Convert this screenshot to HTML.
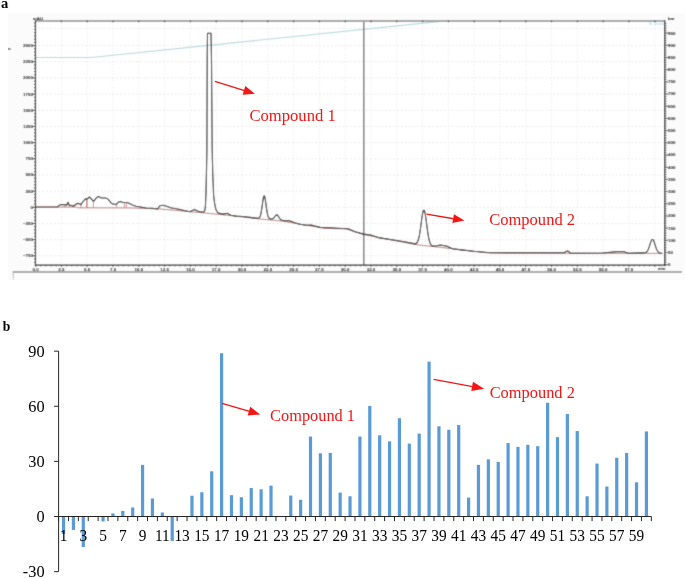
<!DOCTYPE html>
<html><head><meta charset="utf-8"><title>Chromatogram and bar chart</title>
<style>html,body{margin:0;padding:0;background:#fff;width:685px;height:578px;overflow:hidden}svg{display:block}</style>
</head><body>
<svg width="685" height="578" viewBox="0 0 685 578"><defs><filter id="bA" x="0" y="0" width="1" height="1"><feConvolveMatrix order="3" kernelMatrix="0.03 0.1 0.03 0.1 0.48 0.1 0.03 0.1 0.03" edgeMode="duplicate"/></filter></defs>
<g filter="url(#bA)">
<rect x="8.8" y="13.7" width="675.7" height="265.5" fill="#fbfbfb"/>
<rect x="35.5" y="21.0" width="629.2" height="244.10000000000002" fill="#ffffff"/>
<path d="M38.30 255.81H663.70 M38.30 239.64H663.70 M38.30 223.47H663.70 M38.30 207.30H663.70 M38.30 191.13H663.70 M38.30 174.96H663.70 M38.30 158.79H663.70 M38.30 142.62H663.70 M38.30 126.45H663.70 M38.30 110.28H663.70 M38.30 94.11H663.70 M38.30 77.94H663.70 M38.30 61.77H663.70 M38.30 45.60H663.70 M38.30 28.40H663.70" stroke="#e2e2e2" stroke-width="0.8" stroke-dasharray="1.8 2.1" fill="none"/>
<path d="M61.40 22.00V264.10 M87.20 22.00V264.10 M113.00 22.00V264.10 M138.80 22.00V264.10 M164.60 22.00V264.10 M190.40 22.00V264.10 M216.20 22.00V264.10 M242.00 22.00V264.10 M267.80 22.00V264.10 M293.60 22.00V264.10 M319.40 22.00V264.10 M345.20 22.00V264.10 M371.00 22.00V264.10 M396.80 22.00V264.10 M422.60 22.00V264.10 M448.40 22.00V264.10 M474.20 22.00V264.10 M500.00 22.00V264.10 M525.80 22.00V264.10 M551.60 22.00V264.10 M577.40 22.00V264.10 M603.20 22.00V264.10 M629.00 22.00V264.10 M654.80 22.00V264.10" stroke="#e2e2e2" stroke-width="0.8" stroke-dasharray="1.2 2.04" fill="none"/>
<polyline points="35.5,57.5 91.5,57.5 448,20.6 664.7,20.6" stroke="#b5d8db" stroke-width="1.1" fill="none"/>
<rect x="9.1" y="48" width="1.6" height="2" fill="#808080"/>
<line x1="363.8" y1="21.0" x2="363.8" y2="265.1" stroke="#666" stroke-width="1.3"/>
<polyline points="35.5,207.1 57,207.1 77,207.1 77.3,207.8 130,207.9 160,209.0 205,213.0 230,215.5 258,218.8 282,221.0 325,228.4 346,228.9 364,234.7 416,244.7 440,247.3 490,253.2 663,253.4" stroke="#b98080" stroke-width="1" fill="none"/>
<line x1="65.1" y1="207.6" x2="65.1" y2="205.0" stroke="#c08080" stroke-width="0.9"/>
<line x1="80.9" y1="207.6" x2="80.9" y2="204.6" stroke="#c08080" stroke-width="0.9"/>
<line x1="86.5" y1="207.6" x2="86.5" y2="199.0" stroke="#c08080" stroke-width="0.9"/>
<line x1="87.2" y1="207.6" x2="87.2" y2="199.2" stroke="#c08080" stroke-width="0.9"/>
<line x1="93.4" y1="207.6" x2="93.4" y2="201.2" stroke="#c08080" stroke-width="0.9"/>
<line x1="116.4" y1="207.6" x2="116.4" y2="204.3" stroke="#c08080" stroke-width="0.9"/>
<line x1="124.4" y1="207.6" x2="124.4" y2="202.5" stroke="#c08080" stroke-width="0.9"/>
<line x1="126.4" y1="207.6" x2="126.4" y2="202.5" stroke="#c08080" stroke-width="0.9"/>
<polyline points="35.50,207.10 57.20,207.10 58.50,205.80 60.40,204.60 65.70,204.60 66.30,205.20 67.00,204.50 68.00,202.20 69.50,205.70 71.00,205.30 73.30,206.30 75.50,204.50 77.40,203.40 79.70,203.70 80.90,204.60 83.20,201.30 85.60,198.70 86.70,199.30 89.40,197.00 93.60,201.40 96.00,198.30 98.40,196.40 101.60,198.00 105.50,198.00 107.40,198.70 109.30,200.60 111.30,203.20 113.80,204.30 116.40,204.30 118.30,202.20 120.30,201.40 122.80,202.50 127.30,202.50 129.30,203.50 132.50,205.10 136.00,206.20 142.10,207.20 146.20,208.00 152.30,208.20 157.50,209.00 158.60,207.50 160.00,205.70 163.10,205.20 166.60,206.20 170.70,207.70 178.90,209.20 185.00,210.80 190.10,211.80 194.20,209.40 198.30,211.30 202.40,212.30 204.30,211.60 205.00,209.50 205.50,205.00 205.90,195.00 206.40,175.00 206.90,150.00 207.20,60.00 207.50,33.20 211.00,33.20 211.50,60.00 212.20,150.00 212.80,175.00 213.60,195.00 214.40,202.00 215.10,206.00 215.90,209.50 217.80,212.80 220.50,213.60 223.00,214.10 225.50,213.60 227.30,213.30 229.00,214.20 231.00,215.20 236.10,216.10 242.70,216.50 250.00,217.40 255.80,218.10 257.80,218.30 258.00,218.12 258.41,218.05 258.82,217.92 259.24,217.65 259.65,217.19 260.06,216.46 260.48,215.35 260.89,213.79 261.30,211.73 261.71,209.19 262.12,206.29 262.54,203.25 262.95,200.35 263.36,197.95 263.77,196.34 264.19,195.78 264.60,196.33 265.01,197.92 265.43,200.34 265.84,203.26 266.25,206.36 266.66,209.32 267.07,211.93 267.49,214.07 267.90,215.71 268.31,216.90 268.72,217.70 269.14,218.23 269.55,218.55 269.96,218.75 270.38,218.86 270.79,218.93 271.20,218.98 271.67,218.93 272.13,218.88 272.60,218.75 273.07,218.52 273.53,218.17 274.00,217.70 274.47,217.10 274.93,216.44 275.40,215.79 275.87,215.24 276.33,214.89 276.80,214.80 277.27,215.00 277.73,215.47 278.20,216.14 278.67,216.91 279.13,217.69 279.60,218.40 280.07,218.99 280.53,219.46 281.00,219.80 281.47,220.04 281.93,220.21 282.40,220.34 284.00,221.00 286.50,220.60 288.50,220.50 291.00,221.30 293.80,222.50 299.90,224.30 306.00,225.20 311.30,225.10 314.80,226.00 320.10,227.40 330.60,227.80 338.00,228.20 348.30,228.70 355.00,231.80 363.80,234.10 370.80,235.00 379.60,237.90 395.30,240.20 405.80,242.00 415.00,243.90 415.50,243.67 416.23,243.38 416.96,242.74 417.69,241.54 418.42,239.56 419.15,236.58 419.88,232.51 420.60,227.51 421.33,222.00 422.06,216.71 422.79,212.50 423.52,210.19 424.25,210.23 424.98,212.65 425.71,216.99 426.44,222.44 427.17,228.15 427.90,233.38 428.62,237.68 429.35,240.90 430.08,243.11 430.81,244.52 431.54,245.37 432.27,245.86 433.00,246.15 437.00,245.70 440.30,245.10 446.40,246.00 452.50,248.70 461.30,249.90 473.50,251.30 487.60,252.50 505.00,252.70 564.00,252.70 566.00,251.50 567.50,250.90 569.00,251.50 570.10,253.40 602.60,253.00 610.00,252.30 616.60,251.60 623.60,251.60 628.80,253.40 643.00,252.90 643.50,252.97 644.27,252.92 645.05,252.80 645.83,252.53 646.60,252.00 647.38,251.08 648.15,249.67 648.92,247.73 649.70,245.37 650.48,242.92 651.25,240.83 652.02,239.57 652.80,239.44 653.58,240.49 654.35,242.46 655.12,244.90 655.90,247.33 656.68,249.41 657.45,250.97 658.23,252.02 659.00,252.64 659.77,252.99 660.55,253.16 661.33,253.24 662.10,253.28" stroke="#111" stroke-width="1.1" fill="none" stroke-linejoin="round"/>
<line x1="35.5" y1="207.1" x2="57.6" y2="207.1" stroke="#c08a8a" stroke-width="1.1"/>
<line x1="35.5" y1="21.0" x2="664.7" y2="21.0" stroke="#a6a6a6" stroke-width="2"/>
<line x1="35.5" y1="20.0" x2="35.5" y2="265.90000000000003" stroke="#1a1a1a" stroke-width="1.2"/>
<line x1="34.8" y1="265.1" x2="664.7" y2="265.1" stroke="#222" stroke-width="1.4"/>
<line x1="664.7" y1="20.0" x2="664.7" y2="265.90000000000003" stroke="#1a1a1a" stroke-width="1.2"/>
<path d="M34.00 262.28H35.5 M34.00 259.04H35.5 M32.50 255.81H35.5 M34.00 252.58H35.5 M34.00 249.34H35.5 M34.00 246.11H35.5 M34.00 242.87H35.5 M32.50 239.64H35.5 M34.00 236.41H35.5 M34.00 233.17H35.5 M34.00 229.94H35.5 M34.00 226.70H35.5 M32.50 223.47H35.5 M34.00 220.24H35.5 M34.00 217.00H35.5 M34.00 213.77H35.5 M34.00 210.53H35.5 M32.50 207.30H35.5 M34.00 204.07H35.5 M34.00 200.83H35.5 M34.00 197.60H35.5 M34.00 194.36H35.5 M32.50 191.13H35.5 M34.00 187.90H35.5 M34.00 184.66H35.5 M34.00 181.43H35.5 M34.00 178.19H35.5 M32.50 174.96H35.5 M34.00 171.73H35.5 M34.00 168.49H35.5 M34.00 165.26H35.5 M34.00 162.02H35.5 M32.50 158.79H35.5 M34.00 155.56H35.5 M34.00 152.32H35.5 M34.00 149.09H35.5 M34.00 145.85H35.5 M32.50 142.62H35.5 M34.00 139.39H35.5 M34.00 136.15H35.5 M34.00 132.92H35.5 M34.00 129.68H35.5 M32.50 126.45H35.5 M34.00 123.22H35.5 M34.00 119.98H35.5 M34.00 116.75H35.5 M34.00 113.51H35.5 M32.50 110.28H35.5 M34.00 107.05H35.5 M34.00 103.81H35.5 M34.00 100.58H35.5 M34.00 97.34H35.5 M32.50 94.11H35.5 M34.00 90.88H35.5 M34.00 87.64H35.5 M34.00 84.41H35.5 M34.00 81.17H35.5 M32.50 77.94H35.5 M34.00 74.71H35.5 M34.00 71.47H35.5 M34.00 68.24H35.5 M34.00 65.00H35.5 M32.50 61.77H35.5 M34.00 58.54H35.5 M34.00 55.30H35.5 M34.00 52.07H35.5 M34.00 48.83H35.5 M32.50 45.60H35.5 M34.00 42.37H35.5 M34.00 39.13H35.5 M34.00 35.90H35.5 M34.00 32.66H35.5 M34.00 29.43H35.5 M34.00 26.20H35.5 M34.00 22.96H35.5 M35.60 265.1V266.90000000000003 M40.76 265.1V266.3 M45.92 265.1V266.3 M51.08 265.1V266.3 M56.24 265.1V266.3 M61.40 265.1V266.90000000000003 M66.56 265.1V266.3 M71.72 265.1V266.3 M76.88 265.1V266.3 M82.04 265.1V266.3 M87.20 265.1V266.90000000000003 M92.36 265.1V266.3 M97.52 265.1V266.3 M102.68 265.1V266.3 M107.84 265.1V266.3 M113.00 265.1V266.90000000000003 M118.16 265.1V266.3 M123.32 265.1V266.3 M128.48 265.1V266.3 M133.64 265.1V266.3 M138.80 265.1V266.90000000000003 M143.96 265.1V266.3 M149.12 265.1V266.3 M154.28 265.1V266.3 M159.44 265.1V266.3 M164.60 265.1V266.90000000000003 M169.76 265.1V266.3 M174.92 265.1V266.3 M180.08 265.1V266.3 M185.24 265.1V266.3 M190.40 265.1V266.90000000000003 M195.56 265.1V266.3 M200.72 265.1V266.3 M205.88 265.1V266.3 M211.04 265.1V266.3 M216.20 265.1V266.90000000000003 M221.36 265.1V266.3 M226.52 265.1V266.3 M231.68 265.1V266.3 M236.84 265.1V266.3 M242.00 265.1V266.90000000000003 M247.16 265.1V266.3 M252.32 265.1V266.3 M257.48 265.1V266.3 M262.64 265.1V266.3 M267.80 265.1V266.90000000000003 M272.96 265.1V266.3 M278.12 265.1V266.3 M283.28 265.1V266.3 M288.44 265.1V266.3 M293.60 265.1V266.90000000000003 M298.76 265.1V266.3 M303.92 265.1V266.3 M309.08 265.1V266.3 M314.24 265.1V266.3 M319.40 265.1V266.90000000000003 M324.56 265.1V266.3 M329.72 265.1V266.3 M334.88 265.1V266.3 M340.04 265.1V266.3 M345.20 265.1V266.90000000000003 M350.36 265.1V266.3 M355.52 265.1V266.3 M360.68 265.1V266.3 M365.84 265.1V266.3 M371.00 265.1V266.90000000000003 M376.16 265.1V266.3 M381.32 265.1V266.3 M386.48 265.1V266.3 M391.64 265.1V266.3 M396.80 265.1V266.90000000000003 M401.96 265.1V266.3 M407.12 265.1V266.3 M412.28 265.1V266.3 M417.44 265.1V266.3 M422.60 265.1V266.90000000000003 M427.76 265.1V266.3 M432.92 265.1V266.3 M438.08 265.1V266.3 M443.24 265.1V266.3 M448.40 265.1V266.90000000000003 M453.56 265.1V266.3 M458.72 265.1V266.3 M463.88 265.1V266.3 M469.04 265.1V266.3 M474.20 265.1V266.90000000000003 M479.36 265.1V266.3 M484.52 265.1V266.3 M489.68 265.1V266.3 M494.84 265.1V266.3 M500.00 265.1V266.90000000000003 M505.16 265.1V266.3 M510.32 265.1V266.3 M515.48 265.1V266.3 M520.64 265.1V266.3 M525.80 265.1V266.90000000000003 M530.96 265.1V266.3 M536.12 265.1V266.3 M541.28 265.1V266.3 M546.44 265.1V266.3 M551.60 265.1V266.90000000000003 M556.76 265.1V266.3 M561.92 265.1V266.3 M567.08 265.1V266.3 M572.24 265.1V266.3 M577.40 265.1V266.90000000000003 M582.56 265.1V266.3 M587.72 265.1V266.3 M592.88 265.1V266.3 M598.04 265.1V266.3 M603.20 265.1V266.90000000000003 M608.36 265.1V266.3 M613.52 265.1V266.3 M618.68 265.1V266.3 M623.84 265.1V266.3 M629.00 265.1V266.90000000000003 M634.16 265.1V266.3 M639.32 265.1V266.3 M644.48 265.1V266.3 M649.64 265.1V266.3 M654.80 265.1V266.90000000000003 M659.96 265.1V266.3 M665.12 265.1V266.3 M61.40 20.4V22.2 M87.20 20.4V22.2 M113.00 20.4V22.2 M138.80 20.4V22.2 M164.60 20.4V22.2 M190.40 20.4V22.2 M216.20 20.4V22.2 M242.00 20.4V22.2 M267.80 20.4V22.2 M293.60 20.4V22.2 M319.40 20.4V22.2 M345.20 20.4V22.2 M371.00 20.4V22.2 M396.80 20.4V22.2 M422.60 20.4V22.2 M448.40 20.4V22.2 M474.20 20.4V22.2 M500.00 20.4V22.2 M525.80 20.4V22.2 M551.60 20.4V22.2 M577.40 20.4V22.2 M603.20 20.4V22.2 M629.00 20.4V22.2 M654.80 20.4V22.2 M664.7 264.70H667.9000000000001 M664.7 262.26H666.3000000000001 M664.7 259.82H666.3000000000001 M664.7 257.39H666.3000000000001 M664.7 254.95H666.3000000000001 M664.7 252.51H667.9000000000001 M664.7 250.07H666.3000000000001 M664.7 247.63H666.3000000000001 M664.7 245.20H666.3000000000001 M664.7 242.76H666.3000000000001 M664.7 240.32H667.9000000000001 M664.7 237.88H666.3000000000001 M664.7 235.44H666.3000000000001 M664.7 233.01H666.3000000000001 M664.7 230.57H666.3000000000001 M664.7 228.13H667.9000000000001 M664.7 225.69H666.3000000000001 M664.7 223.25H666.3000000000001 M664.7 220.82H666.3000000000001 M664.7 218.38H666.3000000000001 M664.7 215.94H667.9000000000001 M664.7 213.50H666.3000000000001 M664.7 211.06H666.3000000000001 M664.7 208.63H666.3000000000001 M664.7 206.19H666.3000000000001 M664.7 203.75H667.9000000000001 M664.7 201.31H666.3000000000001 M664.7 198.87H666.3000000000001 M664.7 196.44H666.3000000000001 M664.7 194.00H666.3000000000001 M664.7 191.56H667.9000000000001 M664.7 189.12H666.3000000000001 M664.7 186.68H666.3000000000001 M664.7 184.25H666.3000000000001 M664.7 181.81H666.3000000000001 M664.7 179.37H667.9000000000001 M664.7 176.93H666.3000000000001 M664.7 174.49H666.3000000000001 M664.7 172.06H666.3000000000001 M664.7 169.62H666.3000000000001 M664.7 167.18H667.9000000000001 M664.7 164.74H666.3000000000001 M664.7 162.30H666.3000000000001 M664.7 159.87H666.3000000000001 M664.7 157.43H666.3000000000001 M664.7 154.99H667.9000000000001 M664.7 152.55H666.3000000000001 M664.7 150.11H666.3000000000001 M664.7 147.68H666.3000000000001 M664.7 145.24H666.3000000000001 M664.7 142.80H667.9000000000001 M664.7 140.36H666.3000000000001 M664.7 137.92H666.3000000000001 M664.7 135.49H666.3000000000001 M664.7 133.05H666.3000000000001 M664.7 130.61H667.9000000000001 M664.7 128.17H666.3000000000001 M664.7 125.73H666.3000000000001 M664.7 123.30H666.3000000000001 M664.7 120.86H666.3000000000001 M664.7 118.42H667.9000000000001 M664.7 115.98H666.3000000000001 M664.7 113.54H666.3000000000001 M664.7 111.11H666.3000000000001 M664.7 108.67H666.3000000000001 M664.7 106.23H667.9000000000001 M664.7 103.79H666.3000000000001 M664.7 101.35H666.3000000000001 M664.7 98.92H666.3000000000001 M664.7 96.48H666.3000000000001 M664.7 94.04H667.9000000000001 M664.7 91.60H666.3000000000001 M664.7 89.16H666.3000000000001 M664.7 86.73H666.3000000000001 M664.7 84.29H666.3000000000001 M664.7 81.85H667.9000000000001 M664.7 79.41H666.3000000000001 M664.7 76.97H666.3000000000001 M664.7 74.54H666.3000000000001 M664.7 72.10H666.3000000000001 M664.7 69.66H667.9000000000001 M664.7 67.22H666.3000000000001 M664.7 64.78H666.3000000000001 M664.7 62.35H666.3000000000001 M664.7 59.91H666.3000000000001 M664.7 57.47H667.9000000000001 M664.7 55.03H666.3000000000001 M664.7 52.59H666.3000000000001 M664.7 50.16H666.3000000000001 M664.7 47.72H666.3000000000001 M664.7 45.28H667.9000000000001 M664.7 42.84H666.3000000000001 M664.7 40.40H666.3000000000001 M664.7 37.97H666.3000000000001 M664.7 35.53H666.3000000000001 M664.7 33.09H667.9000000000001 M664.7 30.65H666.3000000000001 M664.7 28.21H666.3000000000001 M664.7 25.78H666.3000000000001 M664.7 23.34H666.3000000000001" stroke="#222" stroke-width="0.9" fill="none"/>
<g font-family="Liberation Sans, Arial, sans-serif" font-size="4.0" font-weight="bold" fill="#000"><text transform="translate(33.00 257.26) scale(1.12 1)" text-anchor="end">−750</text><text transform="translate(33.00 241.09) scale(1.12 1)" text-anchor="end">−500</text><text transform="translate(33.00 224.92) scale(1.12 1)" text-anchor="end">−250</text><text transform="translate(33.00 208.75) scale(1.12 1)" text-anchor="end">0</text><text transform="translate(33.00 192.58) scale(1.12 1)" text-anchor="end">250</text><text transform="translate(33.00 176.41) scale(1.12 1)" text-anchor="end">500</text><text transform="translate(33.00 160.24) scale(1.12 1)" text-anchor="end">750</text><text transform="translate(33.00 144.07) scale(1.12 1)" text-anchor="end">1000</text><text transform="translate(33.00 127.90) scale(1.12 1)" text-anchor="end">1250</text><text transform="translate(33.00 111.73) scale(1.12 1)" text-anchor="end">1500</text><text transform="translate(33.00 95.56) scale(1.12 1)" text-anchor="end">1750</text><text transform="translate(33.00 79.39) scale(1.12 1)" text-anchor="end">2000</text><text transform="translate(33.00 63.22) scale(1.12 1)" text-anchor="end">2250</text><text transform="translate(33.00 47.05) scale(1.12 1)" text-anchor="end">2500</text><text transform="translate(35.60 270.60) scale(1.12 1)" text-anchor="middle">0.0</text><text transform="translate(61.40 270.60) scale(1.12 1)" text-anchor="middle">2.5</text><text transform="translate(87.20 270.60) scale(1.12 1)" text-anchor="middle">5.0</text><text transform="translate(113.00 270.60) scale(1.12 1)" text-anchor="middle">7.5</text><text transform="translate(138.80 270.60) scale(1.12 1)" text-anchor="middle">10.0</text><text transform="translate(164.60 270.60) scale(1.12 1)" text-anchor="middle">12.5</text><text transform="translate(190.40 270.60) scale(1.12 1)" text-anchor="middle">15.0</text><text transform="translate(216.20 270.60) scale(1.12 1)" text-anchor="middle">17.5</text><text transform="translate(242.00 270.60) scale(1.12 1)" text-anchor="middle">20.0</text><text transform="translate(267.80 270.60) scale(1.12 1)" text-anchor="middle">22.5</text><text transform="translate(293.60 270.60) scale(1.12 1)" text-anchor="middle">25.0</text><text transform="translate(319.40 270.60) scale(1.12 1)" text-anchor="middle">27.5</text><text transform="translate(345.20 270.60) scale(1.12 1)" text-anchor="middle">30.0</text><text transform="translate(371.00 270.60) scale(1.12 1)" text-anchor="middle">32.5</text><text transform="translate(396.80 270.60) scale(1.12 1)" text-anchor="middle">35.0</text><text transform="translate(422.60 270.60) scale(1.12 1)" text-anchor="middle">37.5</text><text transform="translate(448.40 270.60) scale(1.12 1)" text-anchor="middle">40.0</text><text transform="translate(474.20 270.60) scale(1.12 1)" text-anchor="middle">42.5</text><text transform="translate(500.00 270.60) scale(1.12 1)" text-anchor="middle">45.0</text><text transform="translate(525.80 270.60) scale(1.12 1)" text-anchor="middle">47.5</text><text transform="translate(551.60 270.60) scale(1.12 1)" text-anchor="middle">50.0</text><text transform="translate(577.40 270.60) scale(1.12 1)" text-anchor="middle">52.5</text><text transform="translate(603.20 270.60) scale(1.12 1)" text-anchor="middle">55.0</text><text transform="translate(629.00 270.60) scale(1.12 1)" text-anchor="middle">57.5</text><text transform="translate(661.60 270.40) scale(1.12 1)" text-anchor="middle">min</text><text transform="translate(668.00 266.15) scale(1.12 1)" text-anchor="start">0</text><text transform="translate(668.00 253.96) scale(1.12 1)" text-anchor="start">50</text><text transform="translate(668.00 241.77) scale(1.12 1)" text-anchor="start">100</text><text transform="translate(668.00 229.58) scale(1.12 1)" text-anchor="start">150</text><text transform="translate(668.00 217.39) scale(1.12 1)" text-anchor="start">200</text><text transform="translate(668.00 205.20) scale(1.12 1)" text-anchor="start">250</text><text transform="translate(668.00 193.01) scale(1.12 1)" text-anchor="start">300</text><text transform="translate(668.00 180.82) scale(1.12 1)" text-anchor="start">350</text><text transform="translate(668.00 168.63) scale(1.12 1)" text-anchor="start">400</text><text transform="translate(668.00 156.44) scale(1.12 1)" text-anchor="start">450</text><text transform="translate(668.00 144.25) scale(1.12 1)" text-anchor="start">500</text><text transform="translate(668.00 132.06) scale(1.12 1)" text-anchor="start">550</text><text transform="translate(668.00 119.87) scale(1.12 1)" text-anchor="start">600</text><text transform="translate(668.00 107.68) scale(1.12 1)" text-anchor="start">650</text><text transform="translate(668.00 95.49) scale(1.12 1)" text-anchor="start">700</text><text transform="translate(668.00 83.30) scale(1.12 1)" text-anchor="start">750</text><text transform="translate(668.00 71.11) scale(1.12 1)" text-anchor="start">800</text><text transform="translate(668.00 58.92) scale(1.12 1)" text-anchor="start">850</text><text transform="translate(668.00 46.73) scale(1.12 1)" text-anchor="start">900</text><text transform="translate(668.00 34.54) scale(1.12 1)" text-anchor="start">950</text><text transform="translate(38.00 19.60) scale(1.12 1)" text-anchor="middle">mAU</text><text transform="translate(671.30 20.30) scale(1.12 1)" text-anchor="middle">bar</text></g>
<text transform="translate(663.6 24.5) scale(0.98 1)" text-anchor="end" font-family="Liberation Sans, Arial, sans-serif" font-size="3.6" font-weight="bold" fill="#b8dcdc">B_Druck</text>
<rect x="14" y="273" width="668" height="5.6" fill="#fdfdfd"/>
<rect x="12.6" y="271.1" width="669.2" height="1.8" fill="#a0a0a0"/>
<line x1="13.3" y1="273" x2="13.3" y2="278.6" stroke="#aaa" stroke-width="0.8"/>
</g>
<line x1="214.9" y1="81.4" x2="244.46" y2="90.55" stroke="#f21616" stroke-width="1.3"/>
<polygon points="254.87,93.78 242.65,94.70 245.31,86.11" fill="#f21616"/>
<line x1="426.4" y1="214.1" x2="453.65" y2="218.76" stroke="#f21616" stroke-width="1.3"/>
<polygon points="464.39,220.60 452.40,223.11 453.91,214.24" fill="#f21616"/>
<text x="249.5" y="120.7" font-family="Liberation Serif, Times New Roman, serif" font-size="16.6" fill="#f21616">Compound 1</text>
<text x="489.2" y="225.2" font-family="Liberation Serif, Times New Roman, serif" font-size="16.55" fill="#f21616">Compound 2</text>
<text x="0.9" y="8.15" font-family="Liberation Serif, Times New Roman, serif" font-weight="bold" font-size="14.6" fill="#000">a</text>
<g fill="#5b9bd5"><rect x="61.94" y="516.50" width="3.2" height="17.45"/><rect x="71.82" y="516.50" width="3.2" height="13.41"/><rect x="81.70" y="516.50" width="3.2" height="30.49"/><rect x="101.46" y="516.50" width="3.2" height="4.96"/><rect x="111.33" y="513.38" width="3.2" height="3.12"/><rect x="121.21" y="510.99" width="3.2" height="5.51"/><rect x="131.09" y="507.50" width="3.2" height="9.00"/><rect x="140.97" y="464.88" width="3.2" height="51.62"/><rect x="150.85" y="498.50" width="3.2" height="18.00"/><rect x="160.73" y="512.46" width="3.2" height="4.04"/><rect x="170.61" y="516.50" width="3.2" height="24.43"/><rect x="190.37" y="495.74" width="3.2" height="20.76"/><rect x="200.25" y="492.25" width="3.2" height="24.25"/><rect x="210.12" y="471.31" width="3.2" height="45.19"/><rect x="220.00" y="353.19" width="3.2" height="163.31"/><rect x="229.88" y="495.19" width="3.2" height="21.31"/><rect x="239.76" y="497.21" width="3.2" height="19.29"/><rect x="249.64" y="488.03" width="3.2" height="28.47"/><rect x="259.52" y="489.31" width="3.2" height="27.19"/><rect x="269.40" y="485.64" width="3.2" height="30.86"/><rect x="289.16" y="495.56" width="3.2" height="20.94"/><rect x="299.04" y="499.78" width="3.2" height="16.72"/><rect x="308.91" y="436.59" width="3.2" height="79.91"/><rect x="318.79" y="453.31" width="3.2" height="63.19"/><rect x="328.67" y="452.94" width="3.2" height="63.56"/><rect x="338.55" y="492.62" width="3.2" height="23.88"/><rect x="348.43" y="496.29" width="3.2" height="20.21"/><rect x="358.31" y="436.59" width="3.2" height="79.91"/><rect x="368.19" y="405.91" width="3.2" height="110.59"/><rect x="378.07" y="435.30" width="3.2" height="81.20"/><rect x="387.95" y="441.37" width="3.2" height="75.13"/><rect x="397.83" y="418.22" width="3.2" height="98.28"/><rect x="407.70" y="443.57" width="3.2" height="72.93"/><rect x="417.58" y="433.65" width="3.2" height="82.85"/><rect x="427.46" y="361.64" width="3.2" height="154.86"/><rect x="437.34" y="426.30" width="3.2" height="90.20"/><rect x="447.22" y="429.79" width="3.2" height="86.71"/><rect x="457.10" y="425.02" width="3.2" height="91.48"/><rect x="466.98" y="497.58" width="3.2" height="18.92"/><rect x="476.86" y="464.88" width="3.2" height="51.62"/><rect x="486.74" y="459.37" width="3.2" height="57.13"/><rect x="496.62" y="461.94" width="3.2" height="54.56"/><rect x="506.49" y="443.02" width="3.2" height="73.48"/><rect x="516.37" y="446.88" width="3.2" height="69.62"/><rect x="526.25" y="444.86" width="3.2" height="71.64"/><rect x="536.13" y="446.14" width="3.2" height="70.36"/><rect x="546.01" y="402.79" width="3.2" height="113.71"/><rect x="555.89" y="437.14" width="3.2" height="79.36"/><rect x="565.77" y="414.00" width="3.2" height="102.50"/><rect x="575.65" y="431.08" width="3.2" height="85.42"/><rect x="585.53" y="496.29" width="3.2" height="20.21"/><rect x="595.41" y="463.59" width="3.2" height="52.91"/><rect x="605.28" y="486.56" width="3.2" height="29.94"/><rect x="615.16" y="457.72" width="3.2" height="58.78"/><rect x="625.04" y="452.94" width="3.2" height="63.56"/><rect x="634.92" y="482.33" width="3.2" height="34.17"/><rect x="644.80" y="431.45" width="3.2" height="85.05"/></g>
<g font-family="Liberation Serif, Times New Roman, serif" font-size="17.2" fill="#000"><text transform="translate(44.6 356.92) scale(0.95 1)" text-anchor="end">90</text><text transform="translate(44.6 412.03) scale(0.95 1)" text-anchor="end">60</text><text transform="translate(44.6 467.14) scale(0.95 1)" text-anchor="end">30</text><text transform="translate(44.6 522.25) scale(0.95 1)" text-anchor="end">0</text><text transform="translate(44.6 577.36) scale(0.95 1)" text-anchor="end">-30</text><text transform="translate(63.54 540.8) scale(0.874 1)" text-anchor="middle" font-size="17.6">1</text><text transform="translate(83.30 540.8) scale(0.874 1)" text-anchor="middle" font-size="17.6">3</text><text transform="translate(103.06 540.8) scale(0.874 1)" text-anchor="middle" font-size="17.6">5</text><text transform="translate(122.81 540.8) scale(0.874 1)" text-anchor="middle" font-size="17.6">7</text><text transform="translate(142.57 540.8) scale(0.874 1)" text-anchor="middle" font-size="17.6">9</text><text transform="translate(162.33 540.8) scale(0.874 1)" text-anchor="middle" font-size="17.6">11</text><text transform="translate(182.09 540.8) scale(0.874 1)" text-anchor="middle" font-size="17.6">13</text><text transform="translate(201.85 540.8) scale(0.874 1)" text-anchor="middle" font-size="17.6">15</text><text transform="translate(221.60 540.8) scale(0.874 1)" text-anchor="middle" font-size="17.6">17</text><text transform="translate(241.36 540.8) scale(0.874 1)" text-anchor="middle" font-size="17.6">19</text><text transform="translate(261.12 540.8) scale(0.874 1)" text-anchor="middle" font-size="17.6">21</text><text transform="translate(280.88 540.8) scale(0.874 1)" text-anchor="middle" font-size="17.6">23</text><text transform="translate(300.64 540.8) scale(0.874 1)" text-anchor="middle" font-size="17.6">25</text><text transform="translate(320.39 540.8) scale(0.874 1)" text-anchor="middle" font-size="17.6">27</text><text transform="translate(340.15 540.8) scale(0.874 1)" text-anchor="middle" font-size="17.6">29</text><text transform="translate(359.91 540.8) scale(0.874 1)" text-anchor="middle" font-size="17.6">31</text><text transform="translate(379.67 540.8) scale(0.874 1)" text-anchor="middle" font-size="17.6">33</text><text transform="translate(399.43 540.8) scale(0.874 1)" text-anchor="middle" font-size="17.6">35</text><text transform="translate(419.18 540.8) scale(0.874 1)" text-anchor="middle" font-size="17.6">37</text><text transform="translate(438.94 540.8) scale(0.874 1)" text-anchor="middle" font-size="17.6">39</text><text transform="translate(458.70 540.8) scale(0.874 1)" text-anchor="middle" font-size="17.6">41</text><text transform="translate(478.46 540.8) scale(0.874 1)" text-anchor="middle" font-size="17.6">43</text><text transform="translate(498.22 540.8) scale(0.874 1)" text-anchor="middle" font-size="17.6">45</text><text transform="translate(517.97 540.8) scale(0.874 1)" text-anchor="middle" font-size="17.6">47</text><text transform="translate(537.73 540.8) scale(0.874 1)" text-anchor="middle" font-size="17.6">49</text><text transform="translate(557.49 540.8) scale(0.874 1)" text-anchor="middle" font-size="17.6">51</text><text transform="translate(577.25 540.8) scale(0.874 1)" text-anchor="middle" font-size="17.6">53</text><text transform="translate(597.01 540.8) scale(0.874 1)" text-anchor="middle" font-size="17.6">55</text><text transform="translate(616.76 540.8) scale(0.874 1)" text-anchor="middle" font-size="17.6">57</text><text transform="translate(636.52 540.8) scale(0.874 1)" text-anchor="middle" font-size="17.6">59</text></g>
<path d="M58.6 351.17V571.61 M54.1 351.17H58.6 M54.1 406.28H58.6 M54.1 461.39H58.6 M54.1 516.50H58.6 M54.1 571.61H58.6 M58.6 516.5H651.34 M58.60 516.5V521.1 M68.48 516.5V521.1 M78.36 516.5V521.1 M88.24 516.5V521.1 M98.12 516.5V521.1 M108.00 516.5V521.1 M117.87 516.5V521.1 M127.75 516.5V521.1 M137.63 516.5V521.1 M147.51 516.5V521.1 M157.39 516.5V521.1 M167.27 516.5V521.1 M177.15 516.5V521.1 M187.03 516.5V521.1 M196.91 516.5V521.1 M206.78 516.5V521.1 M216.66 516.5V521.1 M226.54 516.5V521.1 M236.42 516.5V521.1 M246.30 516.5V521.1 M256.18 516.5V521.1 M266.06 516.5V521.1 M275.94 516.5V521.1 M285.82 516.5V521.1 M295.70 516.5V521.1 M305.57 516.5V521.1 M315.45 516.5V521.1 M325.33 516.5V521.1 M335.21 516.5V521.1 M345.09 516.5V521.1 M354.97 516.5V521.1 M364.85 516.5V521.1 M374.73 516.5V521.1 M384.61 516.5V521.1 M394.49 516.5V521.1 M404.37 516.5V521.1 M414.24 516.5V521.1 M424.12 516.5V521.1 M434.00 516.5V521.1 M443.88 516.5V521.1 M453.76 516.5V521.1 M463.64 516.5V521.1 M473.52 516.5V521.1 M483.40 516.5V521.1 M493.28 516.5V521.1 M503.16 516.5V521.1 M513.03 516.5V521.1 M522.91 516.5V521.1 M532.79 516.5V521.1 M542.67 516.5V521.1 M552.55 516.5V521.1 M562.43 516.5V521.1 M572.31 516.5V521.1 M582.19 516.5V521.1 M592.07 516.5V521.1 M601.95 516.5V521.1 M611.82 516.5V521.1 M621.70 516.5V521.1 M631.58 516.5V521.1 M641.46 516.5V521.1 M651.34 516.5V521.1" stroke="#262626" stroke-width="1" fill="none"/>
<line x1="222.1" y1="403.3" x2="249.43" y2="411.30" stroke="#f21616" stroke-width="1.3"/>
<polygon points="260.28,414.47 247.66,415.57 250.24,406.74" fill="#f21616"/>
<line x1="433.6" y1="379.3" x2="472.59" y2="386.57" stroke="#f21616" stroke-width="1.3"/>
<polygon points="484.09,388.71 471.24,391.10 472.96,381.85" fill="#f21616"/>
<text x="270.1" y="420.9" font-family="Liberation Serif, Times New Roman, serif" font-size="16.35" fill="#f21616">Compound 1</text>
<text x="489.7" y="397.5" font-family="Liberation Serif, Times New Roman, serif" font-size="16.4" fill="#f21616">Compound 2</text>
<text transform="translate(2.7 331) scale(0.92 1)" font-family="Liberation Serif, Times New Roman, serif" font-weight="bold" font-size="14.8" fill="#000">b</text></svg>
</body></html>
